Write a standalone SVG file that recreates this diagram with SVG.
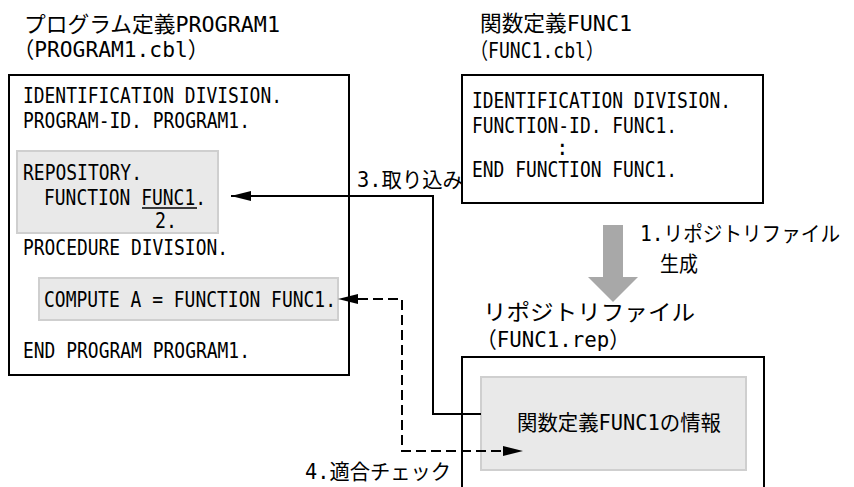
<svg xmlns="http://www.w3.org/2000/svg" width="854" height="487" viewBox="0 0 854 487">
<style>
text{font-family:"DejaVu Sans Mono","Noto Sans CJK JP",monospace;font-size:21px;fill:#000}
.t{font-size:22px}
.box{fill:#fff;stroke:#000;stroke-width:2}
.gray{fill:#e9e9e9;stroke:#cfcfcf;stroke-width:2}
.conn{fill:none;stroke:#000;stroke-width:2}
.dash{fill:none;stroke:#000;stroke-width:2;stroke-dasharray:10 5}
</style>
<defs>
<marker id="ah" viewBox="0 0 20 10" refX="20" refY="5" markerWidth="20" markerHeight="10" markerUnits="userSpaceOnUse" orient="auto">
<path d="M0,0 L20,5 L0,10 Z" fill="#000"/>
</marker>
</defs>
<rect width="854" height="487" fill="#fff"/>

<g id="program1">
<text class="t" x="24" y="32" textLength="256" lengthAdjust="spacingAndGlyphs">プログラム定義PROGRAM1</text>
<text class="t" x="13" y="57" textLength="196" lengthAdjust="spacingAndGlyphs">（PROGRAM1.cbl）</text>
<rect class="box" x="9" y="75" width="340" height="300"/>
<text x="23" y="103" textLength="259" lengthAdjust="spacingAndGlyphs">IDENTIFICATION DIVISION.</text>
<text x="23" y="128" textLength="227" lengthAdjust="spacingAndGlyphs">PROGRAM-ID. PROGRAM1.</text>
<g id="repository">
<rect class="gray" x="17" y="151" width="201" height="82"/>
<text x="23" y="180" textLength="119" lengthAdjust="spacingAndGlyphs">REPOSITORY.</text>
<text x="44" y="205" textLength="162" lengthAdjust="spacingAndGlyphs">FUNCTION FUNC1.</text>
<line x1="142" y1="208" x2="197" y2="208" stroke="#000" stroke-width="1.5"/>
<text x="155" y="228" textLength="22" lengthAdjust="spacingAndGlyphs">2.</text>
</g>
<text x="23" y="255" textLength="205" lengthAdjust="spacingAndGlyphs">PROCEDURE DIVISION.</text>
<g id="compute">
<rect class="gray" x="39" y="278" width="299" height="42"/>
<text x="44" y="307" textLength="292" lengthAdjust="spacingAndGlyphs">COMPUTE A = FUNCTION FUNC1.</text>
</g>
<text x="23" y="358" textLength="227" lengthAdjust="spacingAndGlyphs">END PROGRAM PROGRAM1.</text>
</g>

<g id="func1">
<text class="t" x="480" y="31" textLength="152" lengthAdjust="spacingAndGlyphs">関数定義FUNC1</text>
<text class="t" x="470" y="58" textLength="134" lengthAdjust="spacingAndGlyphs">（FUNC1.cbl）</text>
<rect class="box" x="462" y="75" width="301" height="128"/>
<text x="472" y="108" textLength="259" lengthAdjust="spacingAndGlyphs">IDENTIFICATION DIVISION.</text>
<text x="472" y="133" textLength="205" lengthAdjust="spacingAndGlyphs">FUNCTION-ID. FUNC1.</text>
<text x="556" y="155">:</text>
<text x="472" y="177" textLength="205" lengthAdjust="spacingAndGlyphs">END FUNCTION FUNC1.</text>
</g>

<g id="generate">
<path d="M603,225 H623 V277 H638 L613,302 L588,277 H603 Z" fill="#a8a8a8"/>
<text x="640" y="241" textLength="200" lengthAdjust="spacingAndGlyphs">1.リポジトリファイル</text>
<text x="660" y="271" textLength="38" lengthAdjust="spacingAndGlyphs">生成</text>
</g>

<g id="repfile">
<text class="t" x="483" y="320" textLength="212" lengthAdjust="spacingAndGlyphs">リポジトリファイル</text>
<text class="t" x="476" y="347" textLength="154" lengthAdjust="spacingAndGlyphs">（FUNC1.rep）</text>
<rect class="box" x="462" y="357" width="302" height="140"/>
<rect class="gray" x="481" y="377" width="265" height="93"/>
<text x="517" y="430" textLength="204" lengthAdjust="spacingAndGlyphs">関数定義FUNC1の情報</text>
</g>

<g id="connectors">
<path class="conn" d="M481,414 H433 V196 H231" marker-end="url(#ah)"/>
<text x="357" y="187" textLength="106" lengthAdjust="spacingAndGlyphs">3.取り込み</text>
<path class="dash" d="M358,299 H402 V451 H503"/>
<path d="M358,294 L338,299 L358,304 Z" fill="#000"/>
<path d="M503,446 L523,451 L503,456 Z" fill="#000"/>
<text x="305" y="479" textLength="146" lengthAdjust="spacingAndGlyphs">4.適合チェック</text>
</g>
</svg>
